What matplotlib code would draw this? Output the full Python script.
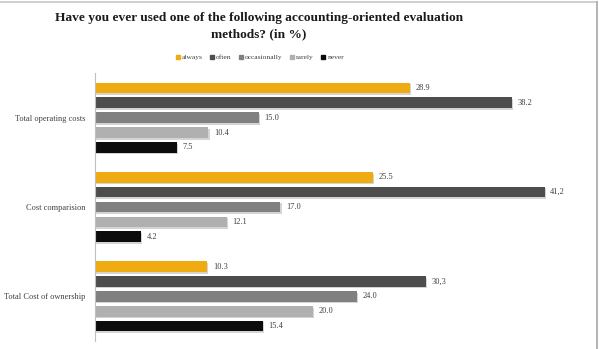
import numpy as np
import matplotlib
matplotlib.use('Agg')
from matplotlib import pyplot as plt
from matplotlib import patheffects as pe
from matplotlib.lines import Line2D

plt.rcParams['font.family'] = ['Liberation Serif', 'DejaVu Serif']

# Data
categories = ['Total operating costs', 'Cost comparision', 'Total Cost of ownership']
series = ['always', 'often', 'occasionally', 'rarely', 'never']
values = {
    'always': [28.9, 25.5, 10.3],
    'often': [38.2, 41.2, 30.3],
    'occasionally': [15.0, 17.0, 24.0],
    'rarely': [10.4, 12.1, 20.0],
    'never': [7.5, 4.2, 15.4],
}
value_labels = {
    'always': ['28.9', '25.5', '10.3'],
    'often': ['38.2', '41,2', '30,3'],
    'occasionally': ['15.0', '17.0', '24.0'],
    'rarely': ['10.4', '12.1', '20.0'],
    'never': ['7.5', '4.2', '15.4'],
}
colors = ['#EEAC12', '#4D4D4D', '#808080', '#B0B0B0', '#0C0C0C']

fig = plt.figure(figsize=(5.99, 3.49), dpi=100, facecolor='white')
ax = fig.add_axes([95 / 599, 1 - 341 / 349, (586 - 95) / 599, (341 - 73) / 349])

shadow = [pe.SimplePatchShadow(offset=(0.8, -1.2), shadow_rgbFace='#d4d4d4', alpha=1.0),
          pe.Normal()]

groupStep = len(series) + 1
for s, name in enumerate(series):
    ypos = [g * groupStep + s for g in range(len(categories))]
    bars = ax.barh(ypos, values[name], height=0.72, color=colors[s], label=name,
                   path_effects=shadow)
    for b, txt in zip(bars, value_labels[name]):
        ax.annotate(txt, (b.get_width(), b.get_y() + b.get_height() / 2),
                    xytext=(4, 0), textcoords='offset points',
                    va='center', ha='left', fontsize=6, color='#404040')

ax.set_xlim(0, 45)
ax.set_ylim(len(categories) * groupStep - 1, -1)
ax.set_yticks([g * groupStep + 2 for g in range(len(categories))])
ax.set_yticklabels(categories, fontsize=6.0, color='#404040')
ax.tick_params(axis='y', length=0, pad=7)
ax.set_xticks([])
for side in ['top', 'right', 'bottom']:
    ax.spines[side].set_visible(False)
ax.spines['left'].set_color('#bfbfbf')
ax.spines['left'].set_linewidth(0.8)

fig.text(259 / 599, 1 - 26 / 349,
         'Have you ever used one of the following accounting-oriented evaluation\nmethods? (in %)',
         ha='center', va='center', fontsize=9.6, fontweight='bold',
         color='#1a1a1a', linespacing=1.45)

handles = [Line2D([], [], marker='s', linestyle='', markersize=3.2, color=c) for c in colors]
fig.legend(handles, series, loc='center', bbox_to_anchor=(260 / 599, 1 - 57 / 349),
           ncol=5, frameon=False, fontsize=5.4, handlelength=0.5, handletextpad=0.3,
           columnspacing=1.0, labelcolor='#404040')

# figure frame lines (top and right)
fig.add_artist(Line2D([0, 597 / 599], [1 - 1.5 / 349, 1 - 1.5 / 349], color='#c8c8c8', lw=1.2))
fig.add_artist(Line2D([596.5 / 599, 596.5 / 599], [0, 1 - 1.5 / 349], color='#a8a8a8', lw=1.2))

fig.savefig('out.png', dpi=100, facecolor='white')
